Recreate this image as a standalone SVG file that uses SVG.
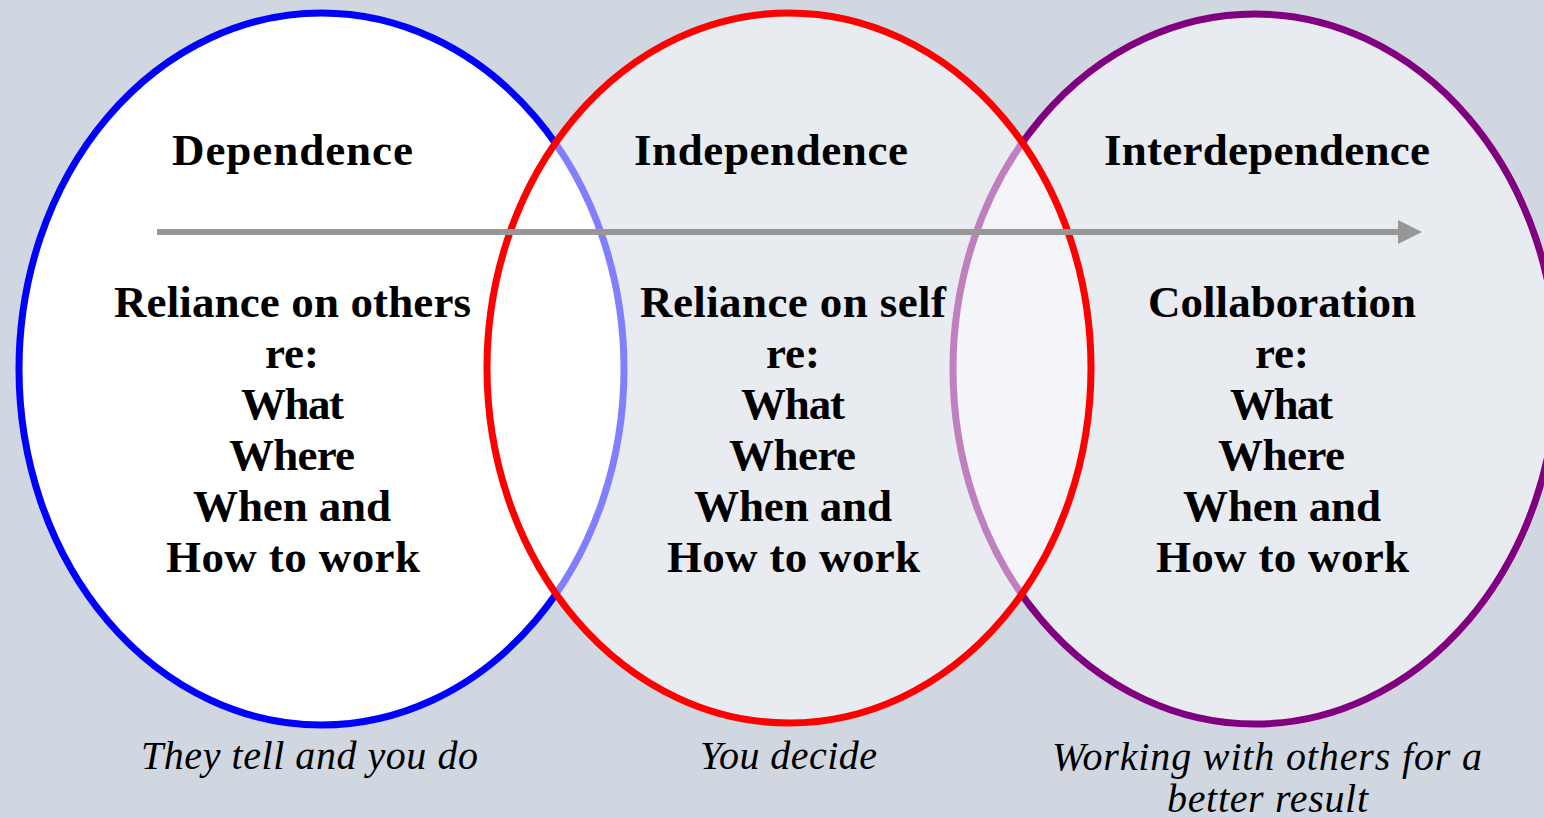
<svg xmlns="http://www.w3.org/2000/svg" width="1544" height="818" viewBox="0 0 1544 818">
  <defs>
    <style>
      .ring { stroke-width: 7; }
      .head { font-family: "Liberation Serif", "Times New Roman", serif; font-weight: bold; font-size: 45px; fill: #000; text-anchor: middle; }
      .note { font-family: "Liberation Serif", "Times New Roman", serif; font-style: italic; font-size: 40px; fill: #000; text-anchor: middle; }
      .flow { stroke: #979797; stroke-width: 6; fill: none; }
    </style>
    <marker id="arrowhead" markerUnits="userSpaceOnUse" markerWidth="24" markerHeight="24" viewBox="0 0 24 24" refX="0" refY="12" orient="auto">
      <path d="M0,0 L24,12 L0,24 Z" fill="#979797"/>
    </marker>
  </defs>

  <rect width="1544" height="818" fill="#d0d7e1"/>

  <!-- Dependence -->
  <g id="node-dependence">
    <ellipse class="ring" cx="321.5" cy="369" rx="302.5" ry="356" fill="#ffffff" stroke="#0000ff"/>
    <text class="head" x="292.5" y="165" textLength="241" lengthAdjust="spacing">Dependence</text>
    <text class="head" x="292.5" y="317" textLength="357" lengthAdjust="spacing">Reliance on others</text>
    <text class="head" x="292" y="368">re:</text>
    <text class="head" x="292.5" y="419" textLength="103" lengthAdjust="spacing">What</text>
    <text class="head" x="292" y="470" textLength="126" lengthAdjust="spacing">Where</text>
    <text class="head" x="292" y="521" textLength="198" lengthAdjust="spacing">When and</text>
    <text class="head" x="293" y="572" textLength="254" lengthAdjust="spacing">How to work</text>
    <text class="note" x="309.5" y="769" textLength="337" lengthAdjust="spacing">They tell and you do</text>
  </g>

  <!-- Interdependence -->
  <g id="node-interdependence">
    <ellipse class="ring" cx="1255" cy="369" rx="302" ry="355" fill="#ffffff" fill-opacity="0.5" stroke="#800080"/>
    <text class="head" x="1267" y="165" textLength="326" lengthAdjust="spacing">Interdependence</text>
    <text class="head" x="1282" y="317" textLength="268" lengthAdjust="spacing">Collaboration</text>
    <text class="head" x="1282" y="368">re:</text>
    <text class="head" x="1281.5" y="419" textLength="103" lengthAdjust="spacing">What</text>
    <text class="head" x="1281.5" y="470" textLength="127" lengthAdjust="spacing">Where</text>
    <text class="head" x="1282" y="521" textLength="198" lengthAdjust="spacing">When and</text>
    <text class="head" x="1282.5" y="572" textLength="253" lengthAdjust="spacing">How to work</text>
    <text class="note" x="1267" y="770" textLength="430" lengthAdjust="spacing">Working with others for a</text>
    <text class="note" x="1267.5" y="812" textLength="201" lengthAdjust="spacing">better result</text>
  </g>

  <!-- Independence -->
  <g id="node-independence">
    <ellipse class="ring" cx="789" cy="368" rx="302" ry="355" fill="#ffffff" fill-opacity="0.5" stroke="#ff0000"/>
    <text class="head" x="771" y="165" textLength="274" lengthAdjust="spacing">Independence</text>
    <text class="head" x="793" y="317" textLength="306" lengthAdjust="spacing">Reliance on self</text>
    <text class="head" x="793" y="368">re:</text>
    <text class="head" x="793" y="419" textLength="104" lengthAdjust="spacing">What</text>
    <text class="head" x="792.5" y="470" textLength="127" lengthAdjust="spacing">Where</text>
    <text class="head" x="793" y="521" textLength="198" lengthAdjust="spacing">When and</text>
    <text class="head" x="793.5" y="572" textLength="253" lengthAdjust="spacing">How to work</text>
    <text class="note" x="788.5" y="769" textLength="177" lengthAdjust="spacing">You decide</text>
  </g>

  <!-- Progression arrow -->
  <g id="connectors">
    <line class="flow" x1="157" y1="232" x2="1398" y2="232" marker-end="url(#arrowhead)"/>
  </g>
</svg>
